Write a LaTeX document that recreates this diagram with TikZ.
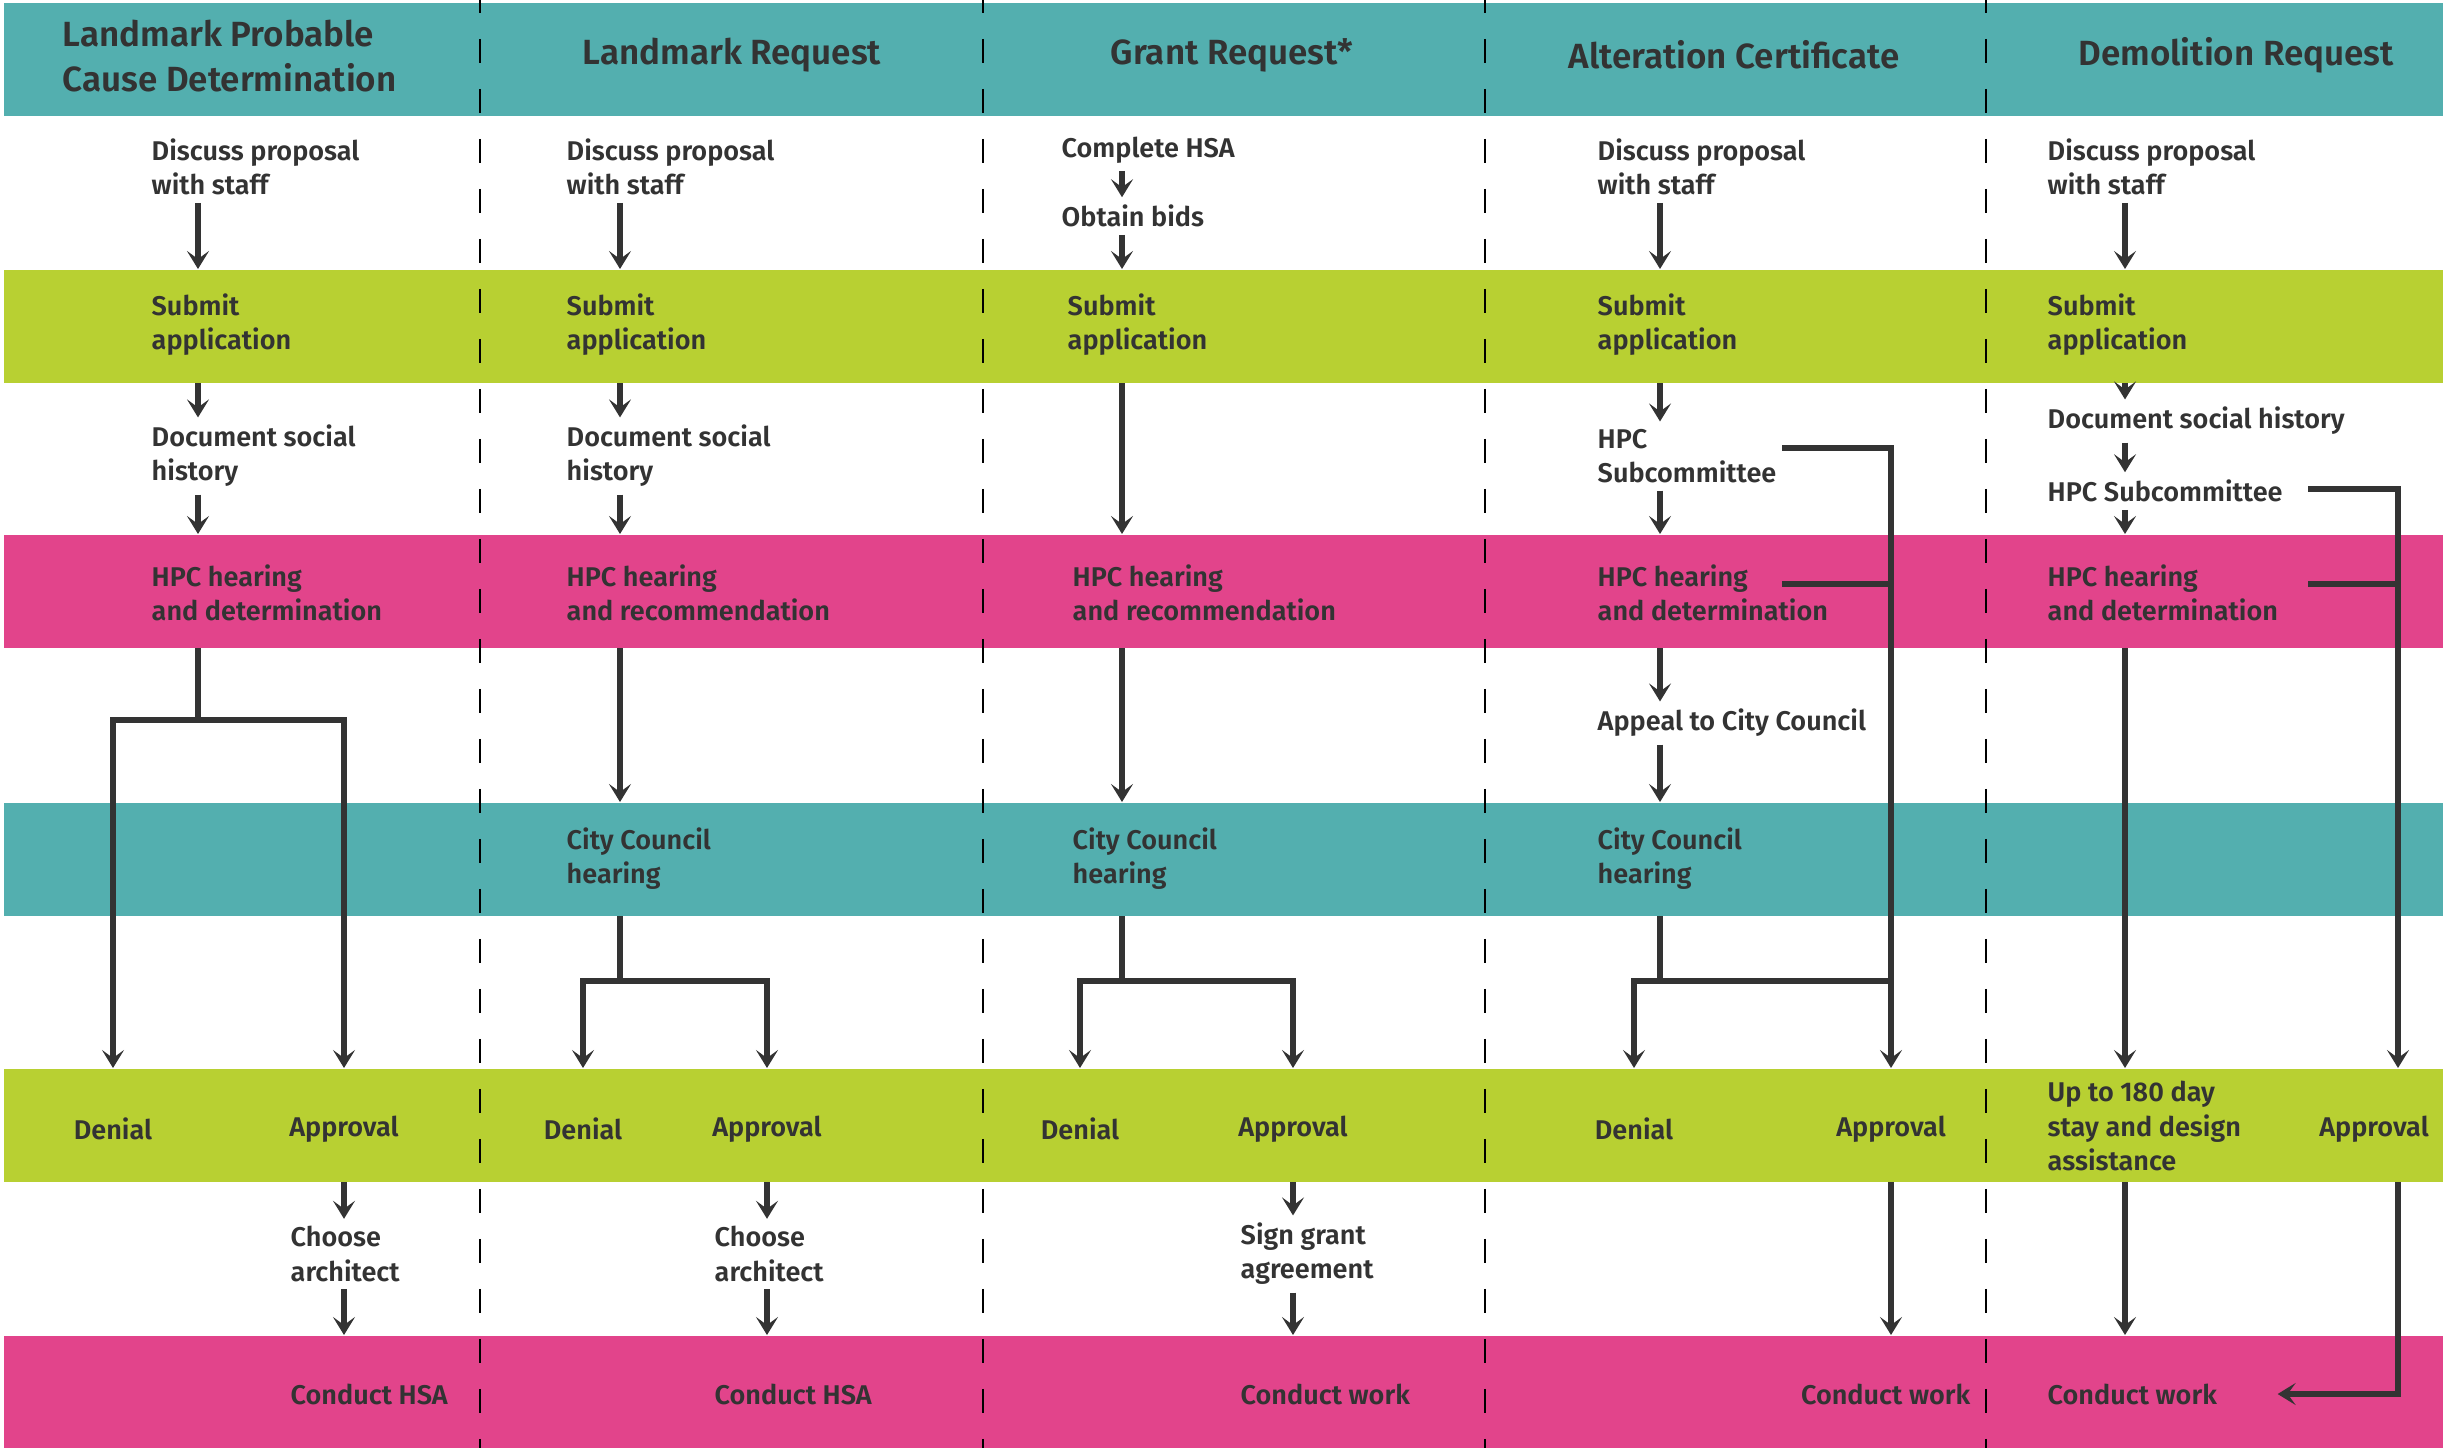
\documentclass[tikz,border=0pt]{standalone}
\usepackage{fontspec}
\setmainfont{Fira Sans}[BoldFont={Fira Sans SemiBold}]
\usetikzlibrary{arrows.meta}

\definecolor{bandteal}{RGB}{83,175,175}
\definecolor{bandgreen}{RGB}{184,208,50}
\definecolor{bandpink}{RGB}{226,68,139}
\definecolor{ink}{RGB}{51,51,51}

\begin{document}
\begin{tikzpicture}[%
    x=0.1mm,
    y=-0.1mm,
    band/.style={%
        fill=#1,
        draw=none,
        anchor=north west,
        inner sep=0pt,
        minimum width=244mm,
        minimum height=11.3mm
    },
    head/.style={%
        text=ink,
        inner sep=0pt,
        font=\bfseries\fontsize{9.95}{12.8}\selectfont
    },
    txt/.style={%
        text=ink,
        anchor=west,
        align=left,
        inner xsep=0pt,
        inner ysep=0.7mm,
        font=\bfseries\fontsize{7.7}{9.7}\selectfont
    },
    arr/.style={%
        draw=ink,
        line width=0.6mm,
        -{Stealth[length=1.8mm,width=2.2mm,inset=0.8mm]}
    },
    link/.style={%
        draw=ink,
        line width=0.6mm
    },
    lane/.style={%
        draw=black,
        line width=0.2mm,
        dash pattern=on 2.4mm off 2.6mm
    }
]
\useasboundingbox (0,0) rectangle (2443,1448);

% Bands
    \node[band=bandteal] (hdr) at (3,2) {};
    \node[band=bandgreen] (sub) at (3,269) {};
    \node[band=bandpink] (hear) at (3,534) {};
    \node[band=bandteal] (cc) at (3,802) {};
    \node[band=bandgreen] (dec) at (3,1068) {};
    \node[band=bandpink] (work) at (3,1335) {};

% Lanes
\draw[lane] (480,-11) -- (480,1460);
\draw[lane] (983,-11) -- (983,1460);
\draw[lane] (1485,-11) -- (1485,1460);
\draw[lane] (1986,-11) -- (1986,1460);

% Headers
    \node[head, anchor=west, align=left] (h1) at (62,56) {Landmark Probable\\Cause Determination};
    \node[head] (h2) at (732,55) {Landmark Request};
    \node[head] (h3) at (1232,55) {Grant Request*};
    \node[head] (h4) at (1734,55) {Alteration Certificate};
    \node[head] (h5) at (2236,55) {Demolition Request};

% Arrow columns and forks
    \coordinate (x1) at (198,0);
    \coordinate (x2) at (620,0);
    \coordinate (x3) at (1122,0);
    \coordinate (x4) at (1660,0);
    \coordinate (x5) at (2125,0);
    \coordinate (r5) at (2398,0);
    \coordinate (fk1) at (0,720);
    \coordinate (fk) at (0,981);

% Landmark Probable Cause Determination
    \node[txt] (dp1) at (151,167) {Discuss proposal\\with staff};
    \node[txt] (sa1) at (151,325) {Submit\\application};
    \node[txt] (ds1) at (151,456) {Document social\\history};
    \node[txt] (hh1) at (151,593) {HPC hearing\\and determination};
    \node[txt, anchor=center] (dn1) at (113,1129) {Denial};
    \node[txt, anchor=center] (ap1) at (344,1129) {Approval};
    \node[txt] (ca1) at (290,1254) {Choose\\architect};
    \node[txt] (ch1) at (290,1394) {Conduct HSA};

% Landmark Request
    \node[txt] (dp2) at (566,167) {Discuss proposal\\with staff};
    \node[txt] (sa2) at (566,325) {Submit\\application};
    \node[txt] (ds2) at (566,456) {Document social\\history};
    \node[txt] (hh2) at (566,593) {HPC hearing\\and recommendation};
    \node[txt] (cc2) at (566,859) {City Council\\hearing};
    \node[txt, anchor=center] (dn2) at (583,1129) {Denial};
    \node[txt, anchor=center] (ap2) at (767,1129) {Approval};
    \node[txt] (ca2) at (714,1254) {Choose\\architect};
    \node[txt] (ch2) at (714,1394) {Conduct HSA};

% Grant Request
    \node[txt] (co3) at (1061,150) {Complete HSA};
    \node[txt] (ob3) at (1061,216) {Obtain bids};
    \node[txt] (sa3) at (1067,325) {Submit\\application};
    \node[txt] (hh3) at (1072,593) {HPC hearing\\and recommendation};
    \node[txt] (cc3) at (1072,859) {City Council\\hearing};
    \node[txt, anchor=center] (dn3) at (1080,1129) {Denial};
    \node[txt, anchor=center] (ap3) at (1293,1129) {Approval};
    \node[txt] (sg3) at (1240,1254) {Sign grant\\agreement};
    \node[txt] (cw3) at (1240,1394) {Conduct work};

% Alteration Certificate
    \node[txt] (dp4) at (1597,167) {Discuss proposal\\with staff};
    \node[txt] (sa4) at (1597,325) {Submit\\application};
    \node[txt] (sc4) at (1597,456) {HPC\\Subcommittee};
    \node[txt] (hh4) at (1597,593) {HPC hearing\\and determination};
    \node[txt] (ac4) at (1597,723) {Appeal to City Council};
    \node[txt] (cc4) at (1597,859) {City Council\\hearing};
    \node[txt, anchor=center] (dn4) at (1634,1129) {Denial};
    \node[txt, anchor=center] (ap4) at (1891,1129) {Approval};
    \node[txt, anchor=east] (cw4) at (1971,1394) {Conduct work};
    \coordinate (t4a) at (1782,448);
    \coordinate (t4b) at (1782,584);

% Demolition Request
    \node[txt] (dp5) at (2047,167) {Discuss proposal\\with staff};
    \node[txt] (sa5) at (2047,325) {Submit\\application};
    \node[txt] (ds5) at (2047,421) {Document social history};
    \node[txt] (sc5) at (2047,491) {HPC Subcommittee};
    \node[txt] (hh5) at (2047,593) {HPC hearing\\and determination};
    \node[txt] (up5) at (2047,1126) {Up to 180 day\\stay and design\\assistance};
    \node[txt, anchor=center] (ap5) at (2374,1129) {Approval};
    \node[txt] (cw5) at (2047,1394) {Conduct work};
    \coordinate (t5a) at (2308,489);
    \coordinate (t5b) at (2308,584);

% Arrows
\draw[arr] (dp1.south -| x1) -- (x1 |- sub.north);
\draw[arr] (x1 |- sub.south) -- (ds1.north -| x1);
\draw[arr] (ds1.south -| x1) -- (x1 |- hear.north);
\draw[link] (x1 |- hear.south) -- (x1 |- fk1);
\draw[arr] (x1 |- fk1) -| (dn1 |- dec.north);
\draw[arr] (x1 |- fk1) -| (ap1 |- dec.north);
\draw[arr] (ap1 |- dec.south) -- (ap1 |- ca1.north);
\draw[arr] (ap1 |- ca1.south) -- (ap1 |- work.north);

\draw[arr] (dp2.south -| x2) -- (x2 |- sub.north);
\draw[arr] (x2 |- sub.south) -- (ds2.north -| x2);
\draw[arr] (ds2.south -| x2) -- (x2 |- hear.north);
\draw[arr] (x2 |- hear.south) -- (x2 |- cc.north);
\draw[link] (x2 |- cc.south) -- (x2 |- fk);
\draw[arr] (x2 |- fk) -| (dn2 |- dec.north);
\draw[arr] (x2 |- fk) -| (ap2 |- dec.north);
\draw[arr] (ap2 |- dec.south) -- (ap2 |- ca2.north);
\draw[arr] (ap2 |- ca2.south) -- (ap2 |- work.north);

\draw[arr] (co3.south -| x3) -- (ob3.north -| x3);
\draw[arr] (ob3.south -| x3) -- (x3 |- sub.north);
\draw[arr] (x3 |- sub.south) -- (x3 |- hear.north);
\draw[arr] (x3 |- hear.south) -- (x3 |- cc.north);
\draw[link] (x3 |- cc.south) -- (x3 |- fk);
\draw[arr] (x3 |- fk) -| (dn3 |- dec.north);
\draw[arr] (x3 |- fk) -| (ap3 |- dec.north);
\draw[arr] (ap3 |- dec.south) -- (ap3 |- sg3.north);
\draw[arr] (ap3 |- sg3.south) -- (ap3 |- work.north);

\draw[arr] (dp4.south -| x4) -- (x4 |- sub.north);
\draw[arr] (x4 |- sub.south) -- (sc4.north -| x4);
\draw[arr] (sc4.south -| x4) -- (x4 |- hear.north);
\draw[arr] (x4 |- hear.south) -- (ac4.north -| x4);
\draw[arr] (ac4.south -| x4) -- (x4 |- cc.north);
\draw[link] (x4 |- cc.south) -- (x4 |- fk);
\draw[arr] (x4 |- fk) -| (dn4 |- dec.north);
\draw[link] (x4 |- fk) -- (ap4 |- fk);
\draw[arr] (t4a) -| (ap4 |- dec.north);
\draw[link] (t4b) -- (t4b -| ap4);
\draw[arr] (ap4 |- dec.south) -- (ap4 |- work.north);

\draw[arr] (dp5.south -| x5) -- (x5 |- sub.north);
\draw[arr] (x5 |- sub.south) -- (ds5.north -| x5);
\draw[arr] (ds5.south -| x5) -- (sc5.north -| x5);
\draw[arr] (sc5.south -| x5) -- (x5 |- hear.north);
\draw[arr] (x5 |- hear.south) -- (x5 |- dec.north);
\draw[arr] (x5 |- dec.south) -- (x5 |- work.north);
\draw[arr] (t5a) -| (r5 |- dec.north);
\draw[link] (t5b) -- (t5b -| r5);
\draw[arr] (r5 |- dec.south) |- ([xshift=6mm]cw5.east);

\end{tikzpicture}
\end{document}
